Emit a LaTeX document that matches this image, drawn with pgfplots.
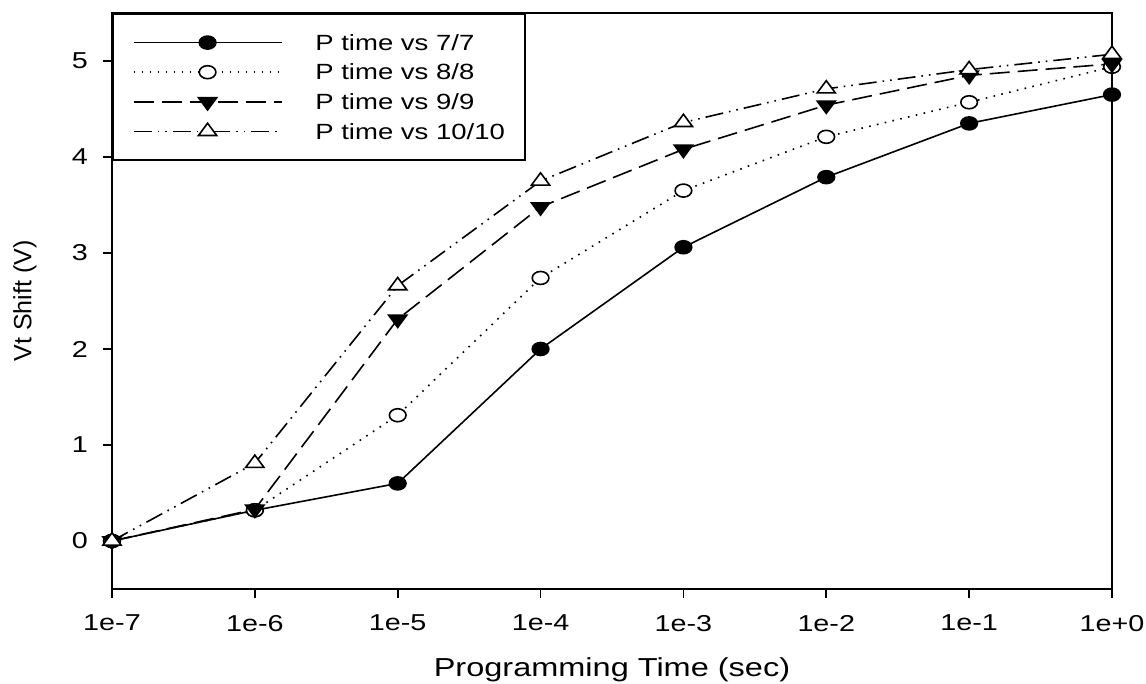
\documentclass[border=0pt]{standalone}
\usepackage{fontspec}
\setmainfont{Liberation Sans}[FakeStretch=1.25]
\newfontfamily\yfont{Liberation Sans}
\usepackage{pgfplots}
\pgfplotsset{compat=1.18}
\begin{document}
\begin{tikzpicture}
\useasboundingbox (-56pt,-47.5pt) rectangle (517pt,294.5pt);
\begin{axis}[
  at={(0,0)}, anchor=south west,
  scale only axis, width=500pt, height=288pt,
  xmode=log, xmin=1e-7, xmax=1,
  ymin=-0.5, ymax=5.5,
  xtick={1e-7,1e-6,1e-5,1e-4,1e-3,1e-2,1e-1,1},
  xticklabels={1e-7,1e-6,1e-5,1e-4,1e-3,1e-2,1e-1,1e+0},
  ytick={0,1,2,3,4,5},
  xminorticks=false, yminorticks=false,
  tick align=outside, tick pos=left,
  major tick length=4.5pt,
  axis line style={line width=0.8pt},
  every tick/.style={black, line width=0.8pt},
  /pgf/number format/assume math mode=true,
  tick label style={font=\fontsize{11.5}{13}\selectfont},
  xticklabel style={yshift=-5pt},
  yticklabel style={xshift=-4pt},
  xlabel={\fontsize{13}{15}\selectfont Programming Time (sec)},
  ylabel={\yfont\fontsize{12.5}{14}\selectfont Vt Shift (V)},
  xlabel style={at={(axis description cs:0.5,-0.14)}, anchor=center},
  ylabel style={at={(axis description cs:-0.087,0.5)}, anchor=center},
  legend style={at={(0,1)}, anchor=north west, draw=black, line width=0.8pt, fill=white,
    inner xsep=10pt, inner ysep=9.5pt, row sep=5pt, column sep=16.5pt,
    font=\fontsize{11}{13}\selectfont,
    nodes={inner sep=0pt, text height=8.4pt, text depth=0.6pt}, cells={anchor=west}},
  legend image code/.code={\path (0pt,-4.5pt) (74pt,4.5pt);\draw[mark repeat=2, mark phase=2] plot coordinates {(0pt,0pt) (37pt,0pt) (74pt,0pt)};},
]
\addplot[black, line width=0.8pt, mark=*, mark size=3.25pt, mark options={solid, fill=black, xscale=1.28}]
 coordinates {(1e-7,0) (1e-6,0.32) (1e-5,0.60) (1e-4,2.00) (1e-3,3.06) (1e-2,3.79) (1e-1,4.35) (1,4.65)};
\addlegendentry{P time vs 7/7}
\addplot[black, line width=0.8pt, dash pattern=on 0.8pt off 3.2pt, mark=*, mark size=3.25pt, mark options={solid, fill=white, xscale=1.28}]
 coordinates {(1e-7,0) (1e-6,0.32) (1e-5,1.31) (1e-4,2.74) (1e-3,3.65) (1e-2,4.21) (1e-1,4.57) (1,4.94)};
\addlegendentry{P time vs 8/8}
\addplot[black, line width=0.8pt, dash pattern=on 10pt off 4pt, mark=triangle*, mark size=4.1pt, mark options={solid, fill=black, rotate=180, xscale=1.28}]
 coordinates {(1e-7,0) (1e-6,0.33) (1e-5,2.31) (1e-4,3.48) (1e-3,4.08) (1e-2,4.54) (1e-1,4.85) (1,4.97)};
\addlegendentry{P time vs 9/9}
\addplot[black, line width=0.8pt, dash pattern=on 9pt off 3pt on 0.8pt off 3pt on 0.8pt off 3pt, mark=triangle*, mark size=4.1pt, mark options={solid, fill=white, xscale=1.28}]
 coordinates {(1e-7,0) (1e-6,0.81) (1e-5,2.66) (1e-4,3.75) (1e-3,4.36) (1e-2,4.71) (1e-1,4.91) (1,5.07)};
\addlegendentry{P time vs 10/10\hspace{14pt}}
\end{axis}
\end{tikzpicture}
\end{document}
